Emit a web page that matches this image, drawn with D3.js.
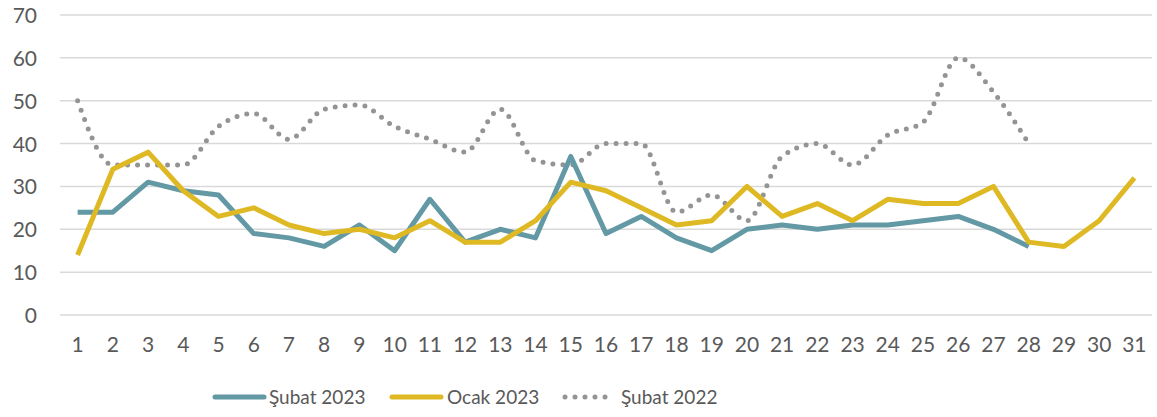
<!DOCTYPE html>
<html>
<head>
<meta charset="utf-8">
<script src="https://cdn.jsdelivr.net/npm/d3@7"></script>
<style>
  body { margin: 0; background: #fff; }
  svg text { font-family: 'Lato', 'DejaVu Sans', sans-serif; fill: #595959; }
</style>
</head>
<body>
<svg id="chart" width="1157" height="417"></svg>
<script>
const days = d3.range(1, 32).map(String);
const yTicks = [0, 10, 20, 30, 40, 50, 60, 70];

const subat2023 = [24, 24, 31, 29, 28, 19, 18, 16, 21, 15, 27, 17, 20, 18, 37, 19, 23, 18, 15, 20, 21, 20, 21, 21, 22, 23, 20, 16];
const ocak2023 = [14, 34, 38, 29, 23, 25, 21, 19, 20, 18, 22, 17, 17, 22, 31, 29, 25, 21, 22, 30, 23, 26, 22, 27, 26, 26, 30, 17, 16, 22, 32];
const subat2022 = [50, 35, 35, 35, 44, 47, 41, 48, 49, 44, 41, 38, 48, 36, 35, 40, 40, 24, 28, 22, 37, 40, 35, 42, 45, 60, 52, 40];

const seriesNames = ['Şubat 2023', 'Ocak 2023', 'Şubat 2022'];
const COLORS = ['#6399a4', '#dfb924', '#949494'];

(function() {
    var svg = d3.select('#chart');
    var left = 60, right = 1152, top = 15, bottom = 315;

    var x = d3.scaleBand().domain(days).range([left, right]);
    var y = d3.scaleLinear().domain([0, 70]).range([bottom, top]);
    var cx = function(i) { return x(days[i]) + x.bandwidth() / 2; };

    // gridlines
    svg.append('g').selectAll('line').data(yTicks).join('line')
        .attr('x1', left).attr('x2', right)
        .attr('y1', d => y(d)).attr('y2', d => y(d))
        .style('stroke', '#d9d9d9').style('stroke-width', 1.5);

    // y axis labels
    svg.append('g').selectAll('text').data(yTicks).join('text')
        .attr('x', 37).attr('y', d => y(d) + 8)
        .attr('text-anchor', 'end')
        .style('font-size', '21px')
        .text(d => d);

    // x axis labels
    svg.append('g').selectAll('text').data(days).join('text')
        .attr('x', (d, i) => cx(i)).attr('y', 352)
        .attr('text-anchor', 'middle')
        .style('font-size', '21px')
        .text(d => d);

    var line = d3.line().x((d, i) => cx(i)).y(d => y(d));
    var smooth = d3.line().x((d, i) => cx(i)).y(d => y(d)).curve(d3.curveMonotoneX);

    svg.append('path').datum(subat2022)
        .attr('d', smooth)
        .style('fill', 'none').style('stroke', COLORS[2])
        .style('stroke-width', 5).style('stroke-linecap', 'round')
        .style('stroke-dasharray', '0 10');

    svg.append('path').datum(subat2023)
        .attr('d', line)
        .style('fill', 'none').style('stroke', COLORS[0])
        .style('stroke-width', 5).style('stroke-linejoin', 'round');

    svg.append('path').datum(ocak2023)
        .attr('d', line)
        .style('fill', 'none').style('stroke', COLORS[1])
        .style('stroke-width', 5).style('stroke-linejoin', 'round');

    // legend
    var legendX = [215, 392, 565];
    var textX = [269, 447, 621];
    var lg = svg.append('g');
    seriesNames.forEach(function(name, i) {
        var l = lg.append('line')
            .attr('x1', legendX[i]).attr('x2', legendX[i] + 49)
            .attr('y1', 397).attr('y2', 397)
            .style('stroke', COLORS[i]).style('stroke-width', 5)
            .style('stroke-linecap', 'round');
        if (i === 2) l.style('stroke-dasharray', '0 10');
        lg.append('text')
            .attr('x', textX[i]).attr('y', 404)
            .style('font-size', '19px')
            .text(name);
    });
})();
</script>
</body>
</html>
